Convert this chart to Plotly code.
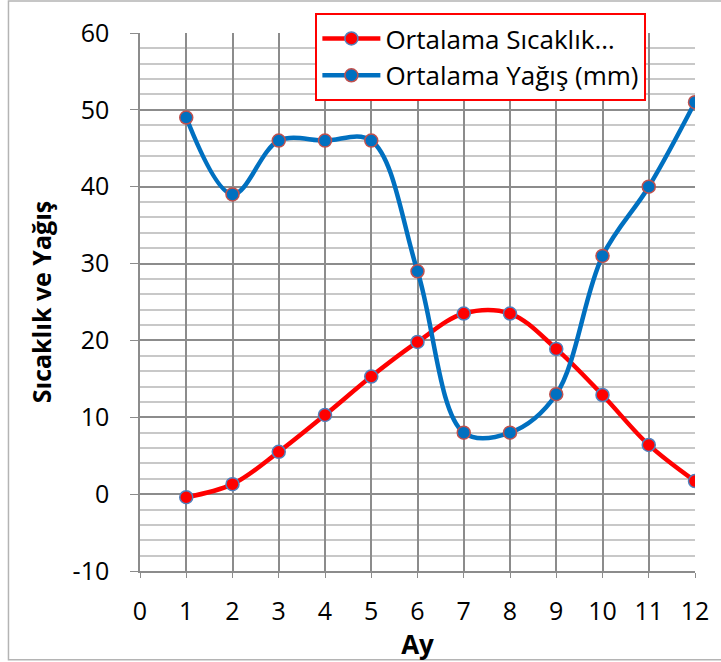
import plotly.graph_objects as go

months = [1, 2, 3, 4, 5, 6, 7, 8, 9, 10, 11, 12]
temperature = [-0.4, 1.3, 5.5, 10.3, 15.3, 19.8, 23.5, 23.5, 18.9, 12.9, 6.4, 1.7]
rainfall = [49, 39, 46, 46, 46, 29, 8, 8, 13, 31, 40, 51]
x_ticks = list(range(0, 13))
y_ticks = list(range(-10, 61, 10))

FONT = "Open Sans, Liberation Sans, sans-serif"

fig = go.Figure()
fig.add_trace(go.Scatter(
    x=months, y=temperature, name="Ortalama Sıcaklık…",
    mode="lines+markers", line=dict(color="#ff0000", width=4.5, shape="spline", smoothing=1.0),
    marker=dict(size=13, color="#ff0000", line=dict(color="#4f81bd", width=1.5)),
))
fig.add_trace(go.Scatter(
    x=months, y=rainfall, name="Ortalama Yağış (mm)",
    mode="lines+markers", line=dict(color="#0070c0", width=4.5, shape="spline", smoothing=1.0),
    marker=dict(size=13, color="#0070c0", line=dict(color="#c0504d", width=1.5)),
))

fig.update_layout(
    width=721, height=662,
    margin=dict(l=140, r=24, t=33, b=91),
    paper_bgcolor="white", plot_bgcolor="white",
    font=dict(family=FONT, size=24, color="black"),
    showlegend=True,
    legend=dict(
        x=0.316, y=1.037, xanchor="left", yanchor="top",
        bgcolor="white", bordercolor="#ff0000", borderwidth=2,
        font=dict(size=26, family=FONT), tracegroupgap=0, itemwidth=58,
    ),
    xaxis=dict(
        range=[0, 12], tickvals=x_ticks, ticktext=[str(v) for v in x_ticks],
        showgrid=True, gridcolor="#8c8c8c", gridwidth=1.5,
        showline=True, linecolor="#8c8c8c", linewidth=1.5,
        ticks="outside", ticklen=5, tickcolor="#8c8c8c",
        ticklabelstandoff=12,
        zeroline=False, tickfont=dict(size=25),
        title=dict(text="<b>Ay</b>", font=dict(size=26), standoff=0),
    ),
    yaxis=dict(
        range=[-10, 60], tickvals=y_ticks, ticktext=[str(v) for v in y_ticks],
        showgrid=True, gridcolor="#8c8c8c", gridwidth=1.5,
        showline=True, linecolor="#8c8c8c", linewidth=1.5,
        ticks="outside", ticklen=8, tickcolor="#8c8c8c",
        ticklabelstandoff=16,
        minor=dict(dtick=2, showgrid=True, gridcolor="#c8c8c8", gridwidth=1.5),
        zeroline=False, tickfont=dict(size=25),
        title=dict(text="<b>Sıcaklık ve Yağış</b>", font=dict(size=25), standoff=14),
    ),
    shapes=[dict(type="rect", xref="paper", yref="paper", x0=-0.237, x1=1.1, y0=-0.165, y1=1.0595,
                 line=dict(color="#b4b4b4", width=1.5), fillcolor="rgba(0,0,0,0)", layer="below")],
)

fig.write_html("out.html")
